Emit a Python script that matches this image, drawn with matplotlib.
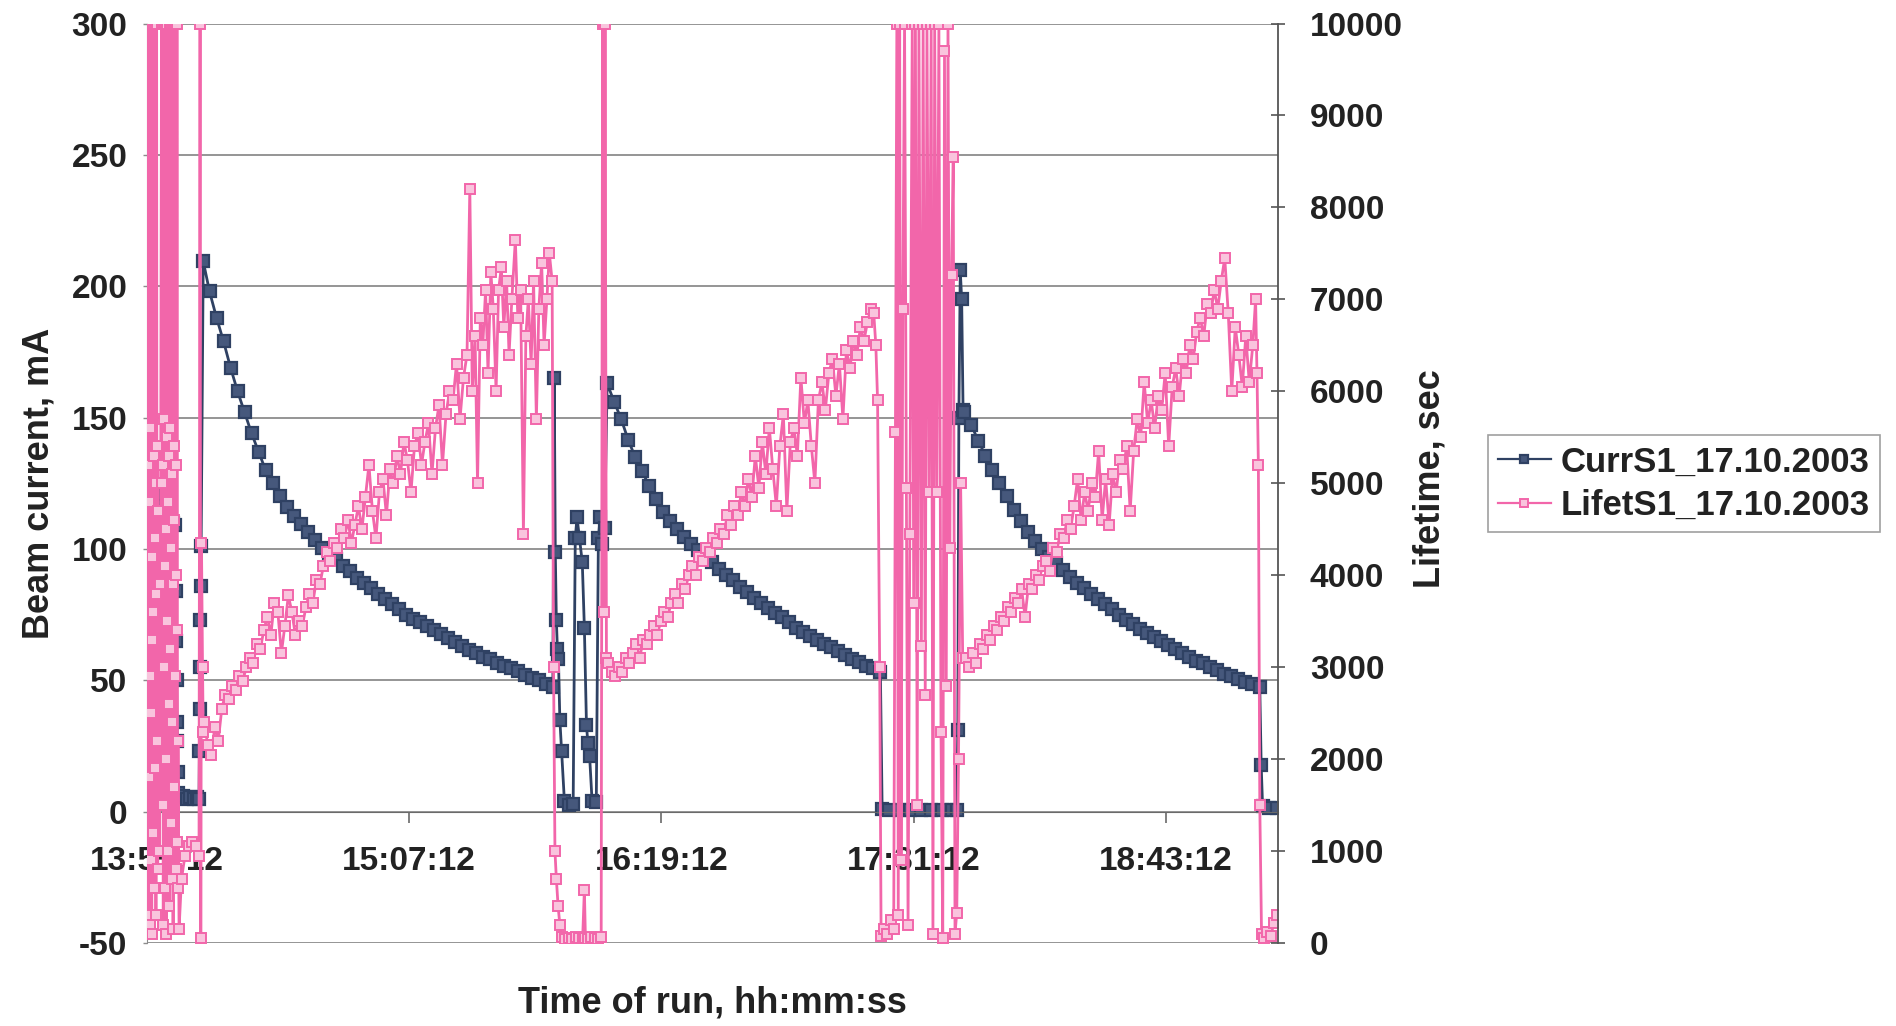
import matplotlib.pyplot as plt

# time axis: minutes after 13:55:12
tick_min = [0, 72, 144, 216, 288]
tick_lbl = ['13:55:12', '15:07:12', '16:19:12', '17:31:12', '18:43:12']

# ---- beam current, mA (left axis) ----
inj1_t = [-2.7, -1.6, -0.4, 0.6, 1.2, 1.4, 2.5, 3.5, 4.5, 5.2, 5.35, 5.5, 5.6, 5.7, 5.8, 5.9, 6.0,
          6.5, 7.5, 8.5, 9.5, 10.5, 11.5, 12.0, 12.1, 12.2, 12.3, 12.4, 12.5, 12.6]
inj1_mA = [1, 2, 3, 4, 118, 121, 60, 5, 110, 109, 84, 65, 50, 34, 27, 15, 7,
           5.5, 6, 5, 5.5, 5, 5.5, 5, 23, 39, 55, 73, 86, 101]

decay1_t = [13.2, 15, 17, 19, 21, 23, 25, 27, 29, 31, 33, 35, 37, 39, 41, 43, 45, 47, 49, 51,
            53, 55, 57, 59, 61, 63, 65, 67, 69, 71, 73, 75, 77, 79, 81, 83, 85, 87, 89, 91,
            93, 95, 97, 99, 101, 103, 105, 107, 109, 111, 113]
decay1_mA = [209.5, 198, 188, 179, 169, 160, 152, 144, 137, 130, 125, 120, 116, 112.5, 109.5,
             106.5, 103.5, 100.5, 98, 96, 93.5, 91.5, 89, 87, 85, 83, 81, 79, 77, 75, 73.5, 72,
             70.5, 69, 67.5, 66, 64.5, 63, 61.5, 60.5, 59, 58, 56.5, 55.5, 54.5, 53.5, 52, 51,
             50, 48.5, 47.5]

gap1_t = [113.4, 113.7, 114.0, 114.3, 114.6, 115.0, 115.5, 116.3, 117.5, 118.8, 119.4, 119.9,
          120.6, 121.4, 122.0, 122.6, 123.0, 123.5, 124.2, 125.4, 126.0, 126.5, 127.1, 127.8]
gap1_mA = [165, 99, 73, 62, 58, 35, 23, 4, 2.5, 3, 104, 112, 104, 95, 70, 33, 26, 21, 4, 3.5,
           104, 112, 102, 108]

decay2_t = [128.5, 130.5, 132.5, 134.5, 136.5, 138.5, 140.5, 142.5, 144.5, 146.5, 148.5, 150.5,
            152.5, 154.5, 156.5, 158.5, 160.5, 162.5, 164.5, 166.5, 168.5, 170.5, 172.5, 174.5,
            176.5, 178.5, 180.5, 182.5, 184.5, 186.5, 188.5, 190.5, 192.5, 194.5, 196.5, 198.5,
            200.5, 202.5, 204.5, 206.5]
decay2_mA = [163, 156, 149.5, 141.5, 135, 129.5, 124, 119, 114, 110.5, 107.5, 104.5, 102, 99.5,
             97, 95, 92.5, 90, 88, 85.5, 83.5, 81.5, 79.5, 77.5, 75.5, 74, 72, 70, 68.5, 67,
             65.5, 64, 62.5, 61, 59.5, 58, 57, 55.5, 54.5, 53.3]

off_t = [207.0, 209, 212, 215, 218, 221, 224, 227, 228.3, 228.6, 228.9, 229.3, 229.7, 230.1]
off_mA = [1, 0.5, 0.5, 0.5, 0.5, 0.5, 0.5, 0.5, 0.8, 31, 150, 206, 195, 153]

decay3_t = [230.5, 232.5, 234.5, 236.5, 238.5, 240.5, 242.5, 244.5, 246.5, 248.5, 250.5, 252.5,
            254.5, 256.5, 258.5, 260.5, 262.5, 264.5, 266.5, 268.5, 270.5, 272.5, 274.5, 276.5,
            278.5, 280.5, 282.5, 284.5, 286.5, 288.5, 290.5, 292.5, 294.5, 296.5, 298.5, 300.5,
            302.5, 304.5, 306.5, 308.5, 310.5, 312.5, 314.8]
decay3_mA = [152, 147, 141, 135.5, 130, 125, 120, 115, 110.5, 106.5, 103, 100, 97, 94.5, 92,
             89.5, 87, 85, 83, 81, 79, 77, 75, 73, 71.5, 69.5, 68, 66.5, 65, 63.5, 62, 60.5, 59,
             57.5, 56.5, 55, 54, 52.5, 51.5, 50.5, 49.5, 48.5, 47.5]

end_t = [315.2, 315.6, 317.5, 319.6]
end_mA = [17.7, 2, 1.5, 1.5]

# ---- lifetime, sec (right axis) ----
lf0_t = [-2.7, -2.6, -2.5, -2.4, -2.3, -2.2, -2.1, -2.0, -1.9, -1.8,
         -1.7, -1.6, -1.5, -1.4, -1.3, -1.2, -1.1, -1.0, -0.9, -0.8,
         -0.7, -0.6, -0.5, -0.4, -0.3, -0.2, -0.1, 0.0, 0.1, 0.2,
         0.4, 0.7, 1.0, 1.3,
         1.5, 1.6, 1.7, 1.8, 1.9, 2.0, 2.1, 2.2, 2.3, 2.4,
         2.5, 2.6, 2.7, 2.8, 2.9, 3.0, 3.1, 3.2, 3.3, 3.4,
         3.5, 3.6, 3.7, 3.8, 3.9, 4.0, 4.1, 4.2, 4.3, 4.4,
         4.5, 4.6, 4.7, 4.8, 4.9, 5.0, 5.1, 5.2, 5.3, 5.4,
         5.5, 5.6, 5.7, 5.8, 5.9, 6.0,
         6.3, 7.0, 8.0, 9.0, 10.0, 11.0, 12.0, 12.3, 12.5, 12.7, 13.0, 13.2]
lf0_s = [10000, 300, 5200, 10000, 1800, 4800, 200, 5600, 2900, 900,
         10000, 2500, 100, 4200, 3300, 10000, 1200, 3600, 5300, 600,
         4400, 10000, 1900, 5000, 300, 3800, 10000, 2200, 5400, 800,
         4700, 1000, 3900, 10000,
         5000, 1500, 5200, 200, 10000, 3000, 5700, 600, 4100, 10000,
         2000, 4500, 100, 5500, 3500, 10000, 1000, 4800, 2600, 5300,
         400, 10000, 3200, 5600, 1300, 4300, 10000, 700, 5100, 2400,
         3900, 150, 10000, 4600, 1700, 5400, 2900, 10000, 800, 4000,
         5200, 1100, 10000, 3400, 600, 2200,
         150, 700, 950, 1050, 1100, 1050, 950, 10000, 50, 4350, 3000, 2300]

lf1_t = [13.5, 14.5, 15.5, 16.5, 17.5, 18.5, 19.5, 20.5, 21.5, 22.5, 23.5, 24.5, 25.5, 26.5,
         27.5, 28.5, 29.5, 30.5, 31.5, 32.5, 33.5, 34.5, 35.5, 36.5, 37.5, 38.5, 39.5, 40.5,
         41.5, 42.5, 43.5, 44.5, 45.5, 46.5, 47.5, 48.5, 49.5, 50.5, 51.5, 52.5, 53.5, 54.5,
         55.5, 56.5, 57.5, 58.5, 59.5, 60.5, 61.5, 62.5, 63.5, 64.5, 65.5, 66.5, 67.5, 68.5,
         69.5, 70.5, 71.5, 72.5, 73.5, 74.5, 75.5, 76.5, 77.5, 78.5, 79.5, 80.5, 81.5, 82.5,
         83.5, 84.5, 85.5, 86.5, 87.5, 88.5,
         89.3, 90.0, 90.8, 91.5, 92.3, 93.0, 93.8, 94.5, 95.3, 96.0, 96.8, 97.5, 98.3, 99.0,
         99.8, 100.5, 101.3, 102.3, 103.0, 103.8, 104.6, 105.3, 106.0, 106.8, 107.5, 108.3,
         109.0, 109.8, 110.5, 111.3, 112.0, 112.8]
lf1_s = [2400, 2150, 2050, 2350, 2200, 2550, 2700, 2650, 2800, 2750,
         2900, 2850, 3000, 3100, 3050, 3250, 3200, 3400, 3550, 3350,
         3700, 3600, 3150, 3450, 3780, 3600, 3350, 3500, 3450, 3650,
         3800, 3700, 3950, 3900, 4100, 4250, 4150, 4350, 4300, 4500,
         4400, 4600, 4350, 4550, 4750, 4500, 4850, 5200, 4700, 4400,
         4900, 5050, 4650, 5150, 5000, 5300, 5100, 5450, 5250, 4900,
         5400, 5550, 5200, 5450, 5650, 5100, 5600, 5850, 5200, 5750,
         6000, 5900, 6300, 5700, 6150, 6400,
         8200, 6000, 6600, 5000, 6800, 6500, 7100, 6200, 7300, 6900, 6000, 7100, 7350, 6700,
         7200, 6400, 7000, 7650, 6800, 7100, 4450, 6600, 7000, 6300, 7200, 5700, 6900, 7400,
         6500, 7000, 7500, 7200]

lf2_t = [113.2, 113.6, 114.0, 114.5, 115.0, 115.5, 116.5, 117.5, 118.5, 119.5, 120.5, 121.5,
         122.0, 122.3, 123.0, 124.0, 125.0, 126.0, 126.8, 127.2, 127.6, 127.9, 128.3]
lf2_s = [3000, 1000, 700, 400, 200, 60, 40, 50, 40, 60, 50, 40, 580, 50, 40, 60, 50, 40, 60,
         10000, 3600, 10000, 3100]

lf3_t = [128.8, 129.8, 130.8, 131.8, 132.8, 133.8, 134.8, 135.8, 136.8, 137.8, 138.8, 139.8,
         140.8, 141.8, 142.8, 143.8, 144.8, 145.8, 146.8, 147.8, 148.8, 149.8, 150.8, 151.8,
         152.8, 153.8, 154.8, 155.8, 156.8, 157.8, 158.8, 159.8, 160.8, 161.8, 162.8, 163.8,
         164.8, 165.8, 166.8, 167.8, 168.8, 169.8, 170.8, 171.8, 172.8, 173.8, 174.8, 175.8,
         176.8, 177.8, 178.8, 179.8, 180.8, 181.8, 182.8, 183.8, 184.8, 185.8, 186.8, 187.8,
         188.8, 189.8, 190.8, 191.8, 192.8, 193.8, 194.8, 195.8, 196.8, 197.8, 198.8, 199.8,
         200.8, 201.8, 202.8, 203.8, 204.6, 205.2, 205.7]
lf3_s = [3050, 2950, 2900, 3000, 2950, 3100, 3050, 3150, 3250, 3100,
         3300, 3250, 3350, 3450, 3350, 3500, 3600, 3550, 3700, 3800,
         3700, 3900, 3850, 4000, 4100, 4000, 4200, 4150, 4300, 4250,
         4400, 4350, 4500, 4450, 4650, 4550, 4750, 4650, 4900, 4750,
         5050, 4850, 5300, 4950, 5450, 5100, 5600, 5150, 4750, 5400,
         5750, 4700, 5450, 5600, 5300, 6150, 5650, 5900, 5400, 5000,
         5900, 6100, 5800, 6200, 6350, 5950, 6300, 5700, 6450, 6250,
         6550, 6400, 6700, 6550, 6750, 6900, 6850, 6500, 5900]

lf4_t = [206.3, 206.7, 207.5, 208.5, 209.5, 210.3, 210.8, 211.2, 211.6, 212.0, 212.4, 212.9,
         213.4, 213.9, 214.4, 214.9, 215.6, 216.0, 216.5, 217.0, 217.5, 218.2, 218.7, 219.3,
         219.8, 220.4, 221.0, 221.5, 222.0, 222.6, 223.2, 223.8, 224.3, 224.8, 225.3, 225.8,
         226.3, 226.8, 227.3, 227.8, 228.3, 228.8, 229.4, 230.0]
lf4_s = [3000, 80, 150, 100, 250, 150, 5560, 10000, 300, 10000, 900, 6900, 10000, 4950, 200,
         4450, 10000, 3700, 10000, 1500, 10000, 3230, 10000, 2700, 10000, 4900, 10000, 100,
         10000, 4900, 10000, 2300, 50, 9700, 2800, 10000, 4300, 7260, 8550, 100, 330, 2000,
         5000, 3100]

lf5_t = [230.8, 231.8, 232.8, 233.8, 234.8, 235.8, 236.8, 237.8, 238.8, 239.8, 240.8, 241.8,
         242.8, 243.8, 244.8, 245.8, 246.8, 247.8, 248.8, 249.8, 250.8, 251.8, 252.8, 253.8,
         254.8, 255.8, 256.8, 257.8, 258.8, 259.8, 260.8, 261.8, 262.8, 263.8, 264.8, 265.8,
         266.8, 267.8, 268.8, 269.8, 270.8, 271.8, 272.8, 273.8, 274.8, 275.8, 276.8, 277.8,
         278.8, 279.8, 280.8, 281.8, 282.8, 283.8, 284.8, 285.8, 286.8, 287.8, 288.8, 289.8,
         290.8, 291.8, 292.8, 293.8, 294.8, 295.8, 296.8, 297.8, 298.8, 299.8, 300.8, 301.8,
         302.8, 303.8, 304.8, 305.8, 306.8, 307.8, 308.8, 309.8, 310.8, 311.8, 312.8,
         313.6, 314.0, 314.4, 314.8, 315.3, 316.0, 317.0, 318.0, 318.8, 319.6]
lf5_s = [3100, 3000, 3150, 3050, 3250, 3200, 3350, 3300, 3450, 3400,
         3550, 3500, 3650, 3600, 3750, 3700, 3850, 3550, 3900, 3850,
         4000, 3950, 4100, 4150, 4050, 4300, 4250, 4450, 4400, 4600,
         4500, 4750, 5050, 4600, 4900, 4700, 5000, 4850, 5350, 4600,
         5050, 4550, 5100, 4900, 5250, 5150, 5400, 4700, 5350, 5700,
         5500, 6100, 5650, 5900, 5600, 5950, 5800, 6200, 5400, 6050,
         6250, 5950, 6350, 6200, 6500, 6350, 6650, 6800, 6600, 6950,
         6850, 7100, 6900, 7200, 7450, 6850, 6000, 6700, 6400, 6050,
         6600, 6100, 6500,
         7000, 6200, 5200, 1500, 100, 50, 120, 80, 220, 300]

curr_t = inj1_t + decay1_t + gap1_t + decay2_t + off_t + decay3_t + end_t
curr_mA = inj1_mA + decay1_mA + gap1_mA + decay2_mA + off_mA + decay3_mA + end_mA
life_t = lf0_t + lf1_t + lf2_t + lf3_t + lf4_t + lf5_t
life_s = lf0_s + lf1_s + lf2_s + lf3_s + lf4_s + lf5_s

plt.rcParams['font.family'] = ['Liberation Sans', 'DejaVu Sans']
plt.rcParams['axes.unicode_minus'] = False
title_font = dict(family=['Liberation Sans Narrow', 'Liberation Sans'], weight='bold',
                  size=26, color='#222222')

blue = '#2f4163'
pink = '#f266aa'
grid_c = '#8c8c8c'

fig = plt.figure(figsize=(18.96, 10.26), dpi=100)
ax = fig.add_axes([147 / 1896, 83 / 1026, 1131 / 1896, 919.5 / 1026])
ax2 = ax.twinx()

l1, = ax.plot(curr_t, curr_mA, color=blue, lw=2.0, marker='s', ms=9,
              mfc='#46587c', mec=blue, mew=1.6)
l2, = ax2.plot(life_t, life_s, color=pink, lw=2.0, marker='s', ms=7.5,
               mfc='#f9c4dd', mec=pink, mew=1.4)

ax.set_xlim(-2.85, 320)
ax.set_ylim(-50, 300)
ax2.set_ylim(0, 10000)

ax.set_yticks(range(-50, 301, 50))
ax2.set_yticks(range(0, 10001, 1000))
ax.set_xticks(tick_min)
ax.set_xticklabels(tick_lbl)

ax.yaxis.grid(True, color=grid_c, lw=1.3)
ax.set_axisbelow(True)

ax.spines['bottom'].set_position(('data', 0))
ax.spines['bottom'].set_color('#6a6a6a')
ax.spines['left'].set_color(grid_c)
ax.spines['top'].set_visible(False)
ax.spines['right'].set_visible(False)
for s in ['top', 'bottom', 'left']:
    ax2.spines[s].set_visible(False)
ax2.spines['right'].set_color('#555555')
ax2.spines['right'].set_linewidth(1.3)

tick_font = dict(labelsize=24, labelcolor='#222222')
ax.tick_params(axis='x', direction='out', length=8, width=1.2, color='#6a6a6a', pad=17, **tick_font)
ax.tick_params(axis='y', direction='out', length=3, width=1, color=grid_c, pad=11, **tick_font)
ax2.tick_params(axis='y', direction='inout', length=10, width=1.2, color='#555555', pad=18, **tick_font)
for lab in ax.get_xticklabels() + ax.get_yticklabels() + ax2.get_yticklabels():
    lab.set_fontweight('bold')

fig.text(39 / 1896, 1 - 483 / 1026, 'Beam current, mA', rotation=90,
         ha='center', va='center', **title_font)
fig.text(1430 / 1896, 1 - 479 / 1026, 'Lifetime, sec', rotation=90,
         ha='center', va='center', **title_font)
fig.text(712 / 1896, 1 - 1003 / 1026, 'Time of run, hh:mm:ss',
         ha='center', va='center', **title_font)

leg = fig.legend([l1, l2], ['CurrS1_17.10.2003', 'LifetS1_17.10.2003'],
                 loc='upper left', bbox_to_anchor=(1488 / 1896, 1 - 435 / 1026),
                 prop=dict(weight='bold', size=25), frameon=True, fancybox=False,
                 handlelength=1.5, handletextpad=0.3, borderpad=0.3, labelspacing=0.3,
                 borderaxespad=0, numpoints=1)
leg.get_frame().set_edgecolor('#888888')
leg.get_frame().set_linewidth(1.2)
for txt in leg.get_texts():
    txt.set_color('#222222')
# thinner line in the legend keys, as in the reference
for h in leg.legend_handles:
    h.set_linewidth(1.6)
    h.set_markersize(6)

fig.savefig('out.png', dpi=100)
